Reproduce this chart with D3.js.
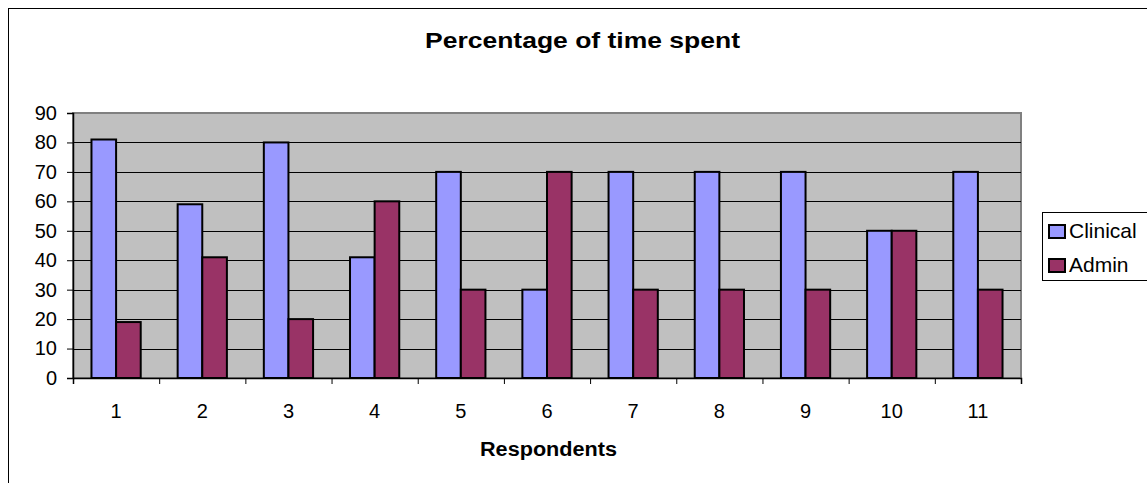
<!DOCTYPE html>
<html>
<head>
<meta charset="utf-8">
<script src="https://cdn.jsdelivr.net/npm/d3@7"></script>
<style>
  body { margin: 0; background: #fff; }
  svg { display: block; font-family: "Liberation Sans", Arial, sans-serif; }
</style>
</head>
<body>
<div id="chart"></div>
<script>
// data
const respondents = ["1", "2", "3", "4", "5", "6", "7", "8", "9", "10", "11"];
const clinical = [81, 59, 80, 41, 70, 30, 70, 70, 70, 50, 70];
const admin = [19, 41, 20, 60, 30, 70, 30, 30, 30, 50, 30];
const seriesNames = ["Clinical", "Admin"];
const seriesColors = ["#9999ff", "#993366"];
const yTicks = [0, 10, 20, 30, 40, 50, 60, 70, 80, 90];

const W = 1147, H = 483;
const plot = { left: 73, right: 1021, top: 113, bottom: 378 };

const svg = d3.select("#chart")
    .append("svg")
    .attr("width", W)
    .attr("height", H);

// chart area frame
svg.append("rect")
    .attr("x", 8.5).attr("y", 8.5)
    .attr("width", W + 20).attr("height", H + 20)
    .attr("fill", "#fff")
    .attr("stroke", "#000")
    .attr("stroke-width", 1);

// scales
const x0 = d3.scaleBand()
    .domain(respondents)
    .range([plot.left, plot.right])
    .paddingInner(1.5 / 3.5)
    .paddingOuter(0.75 / 3.5);
const x1 = d3.scaleBand()
    .domain(seriesNames)
    .range([0, x0.bandwidth()]);
const xEdges = d3.scaleLinear()
    .domain([0, respondents.length])
    .range([plot.left, plot.right]);
const y = d3.scaleLinear()
    .domain([0, 90])
    .range([plot.bottom, plot.top]);

// plot area
svg.append("rect")
    .attr("x", plot.left).attr("y", plot.top)
    .attr("width", plot.right - plot.left)
    .attr("height", plot.bottom - plot.top)
    .attr("fill", "#c0c0c0")
    .attr("stroke", "#808080")
    .attr("stroke-width", 2);

// gridlines
svg.append("g")
    .selectAll("line")
    .data(yTicks.filter(t => t > 0 && t < 90))
    .enter()
    .append("line")
    .attr("x1", plot.left).attr("x2", plot.right)
    .attr("y1", d => Math.round(y(d)) + 0.5)
    .attr("y2", d => Math.round(y(d)) + 0.5)
    .attr("stroke", "#000")
    .attr("stroke-width", 1);

// bars
const rows = respondents.map((r, i) => ({ r, vals: [clinical[i], admin[i]] }));
const groups = svg.append("g")
    .selectAll("g")
    .data(rows)
    .enter()
    .append("g")
    .attr("transform", d => `translate(${x0(d.r)},0)`);
groups.selectAll("rect")
    .data(d => d.vals.map((v, k) => ({ name: seriesNames[k], v, k })))
    .enter()
    .append("rect")
    .attr("x", d => x1(d.name))
    .attr("y", d => y(d.v))
    .attr("width", x1.bandwidth())
    .attr("height", d => y(0) - y(d.v))
    .attr("fill", d => seriesColors[d.k])
    .attr("stroke", "#000")
    .attr("stroke-width", 2);

// y axis
const yAxis = svg.append("g")
    .attr("transform", `translate(${plot.left},0)`)
    .call(d3.axisLeft(y).tickValues(yTicks).tickSize(6).tickPadding(10));
yAxis.select(".domain").attr("stroke", "#000").attr("stroke-width", 1.5);
yAxis.selectAll(".tick line").attr("stroke", "#000");
yAxis.selectAll("text")
    .attr("fill", "#000")
    .style("font-size", "20px")
    .style("font-family", "Liberation Sans, Arial, sans-serif");

// x axis: ticks between categories
const xAxis = svg.append("g")
    .attr("transform", `translate(0,${plot.bottom})`)
    .call(d3.axisBottom(xEdges).tickValues(d3.range(respondents.length + 1))
        .tickSize(6).tickFormat(""));
xAxis.select(".domain").attr("stroke", "#000").attr("stroke-width", 1.5);
xAxis.selectAll(".tick line").attr("stroke", "#000");

svg.append("g")
    .selectAll("text")
    .data(respondents)
    .enter()
    .append("text")
    .attr("x", d => x0(d) + x0.bandwidth() / 2)
    .attr("y", 418)
    .attr("text-anchor", "middle")
    .style("font-size", "20px")
    .text(d => d);

// title and axis title (the reference text is a little wide, so stretch it)
svg.append("text")
    .attr("x", 425)
    .attr("y", 48)
    .attr("textLength", 315)
    .attr("lengthAdjust", "spacingAndGlyphs")
    .style("font-size", "22px")
    .style("font-weight", "bold")
    .text("Percentage of time spent");

svg.append("text")
    .attr("x", 480)
    .attr("y", 456)
    .attr("textLength", 137)
    .attr("lengthAdjust", "spacingAndGlyphs")
    .style("font-size", "20px")
    .style("font-weight", "bold")
    .text("Respondents");

// legend
const legend = svg.append("g");
legend.append("rect")
    .attr("x", 1042.5).attr("y", 212.5)
    .attr("width", 120).attr("height", 68)
    .attr("fill", "#fff")
    .attr("stroke", "#000")
    .attr("stroke-width", 1);
const items = legend.selectAll("g")
    .data(seriesNames)
    .enter()
    .append("g")
    .attr("transform", (d, i) => `translate(1049,${225 + i * 34})`);
items.append("rect")
    .attr("width", 16).attr("height", 13)
    .attr("fill", (d, i) => seriesColors[i])
    .attr("stroke", "#000")
    .attr("stroke-width", 2);
items.append("text")
    .attr("x", 20)
    .attr("y", 13)
    .style("font-size", "21px")
    .text(d => d);
</script>
</body>
</html>
